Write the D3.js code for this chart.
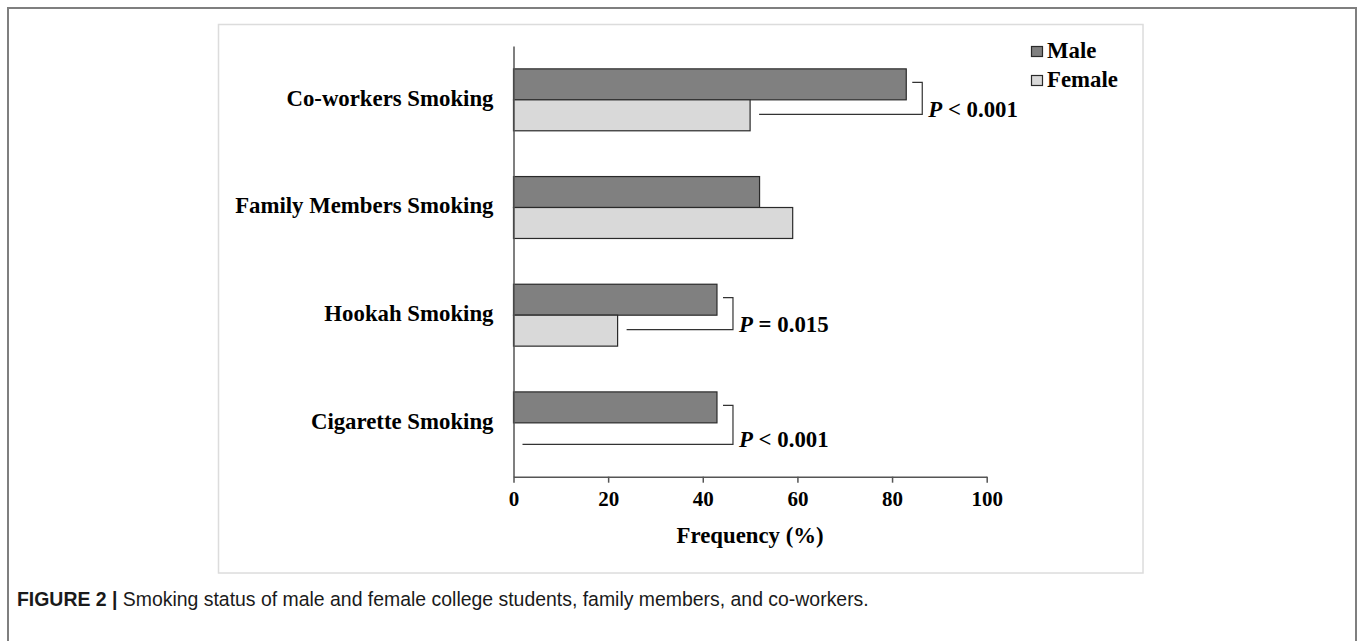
<!DOCTYPE html>
<html>
<head>
<meta charset="utf-8">
<script src="https://cdn.jsdelivr.net/npm/d3@7/dist/d3.min.js"></script>
<style>
  html, body { margin: 0; padding: 0; background: #fff; }
  svg { display: block; }
</style>
</head>
<body>
<svg id="chart" width="1360" height="641"></svg>
<script>
// ---- data ----
const categories = ["Co-workers Smoking", "Family Members Smoking", "Hookah Smoking", "Cigarette Smoking"];
const seriesNames = ["Male", "Female"];
const maleValues = [83, 52, 43, 43];
const femaleValues = [50, 59, 22, 0];
const pLabels = ["< 0.001", null, "= 0.015", "< 0.001"];
const xTicks = [0, 20, 40, 60, 80, 100];
const xTitle = "Frequency (%)";
const captionBold = "FIGURE 2 |";
const captionText = " Smoking status of male and female college students, family members, and co-workers.";

const colors = { Male: "#808080", Female: "#d9d9d9" };
const serif = "'Liberation Serif', 'Times New Roman', serif";
const labelSize = "22.8px";

const svg = d3.select("#chart");

// outer frame (open at bottom)
svg.append("path")
  .attr("d", "M8,641 L8,8 L1356,8 L1356,641")
  .attr("fill", "none").attr("stroke", "#7f7f7f").attr("stroke-width", 2);

// inner chart box
svg.append("rect")
  .attr("x", 218.5).attr("y", 24.5).attr("width", 924.5).attr("height", 548.5)
  .attr("fill", "#fff").attr("stroke", "#dcdcdc").attr("stroke-width", 1.5);

// scales
const x = d3.scaleLinear().domain([0, 100]).range([513.5, 986.7]);
const y = d3.scaleBand().domain(categories).range([46, 476.7]).paddingInner(0.425).paddingOuter(0.2125);
const ySub = d3.scaleBand().domain(seriesNames).range([0, y.bandwidth()]);

const rows = categories.map((c, i) => ({ cat: c, Male: maleValues[i], Female: femaleValues[i], p: pLabels[i] }));

// bars
const g = svg.append("g");
rows.forEach(r => {
  seriesNames.forEach(s => {
    if (r[s] > 0) {
      g.append("rect")
        .attr("x", x(0))
        .attr("y", y(r.cat) + ySub(s))
        .attr("width", x(r[s]) - x(0))
        .attr("height", ySub.bandwidth())
        .attr("fill", colors[s])
        .attr("stroke", "#2a2a2a")
        .attr("stroke-width", 1.2);
    }
  });
});

// x axis
const xAxis = d3.axisBottom(x).tickValues(xTicks).tickSize(6).tickSizeOuter(0).tickFormat(d3.format("d"));
const xg = svg.append("g").attr("transform", `translate(0,${y.range()[1]})`).call(xAxis);
xg.select(".domain").attr("stroke", "#555").attr("stroke-width", 1.5);
xg.selectAll(".tick line").attr("stroke", "#555").attr("stroke-width", 1.5);
xg.selectAll(".tick text")
  .attr("font-family", serif).attr("font-weight", "bold").attr("font-size", "21px")
  .attr("fill", "#000").attr("y", 14).attr("dy", "0.71em");

// y axis line (no ticks)
const yAxis = d3.axisLeft(y).tickSize(0).tickPadding(20).tickSizeOuter(0);
const yg = svg.append("g").attr("transform", `translate(${x(0)},0)`).call(yAxis);
yg.select(".domain").attr("stroke", "#555").attr("stroke-width", 1.5);
yg.selectAll(".tick text")
  .attr("font-family", serif).attr("font-weight", "bold").attr("font-size", labelSize)
  .attr("fill", "#000").attr("dy", "0.25em");

// x title
svg.append("text")
  .attr("x", (x(0) + x(100)) / 2).attr("y", 543)
  .attr("text-anchor", "middle")
  .attr("font-family", serif).attr("font-weight", "bold").attr("font-size", labelSize)
  .attr("fill", "#000").text(xTitle);

// p-value brackets
rows.forEach(r => {
  if (!r.p) return;
  const mEnd = x(r.Male), fEnd = x(r.Female);
  const yTop = y(r.cat) + ySub("Male") + ySub.bandwidth() / 2 - 2;
  const yBot = y(r.cat) + ySub("Female") + ySub.bandwidth() / 2 - 1 + (r.Female === 0 ? 7 : 0);
  const vx = mEnd + 16;
  svg.append("path")
    .attr("d", `M${mEnd + 6},${yTop} H${vx} V${yBot} H${fEnd + 9}`)
    .attr("fill", "none").attr("stroke", "#333").attr("stroke-width", 1.2);
  const t = svg.append("text")
    .attr("x", vx + 6).attr("y", yBot + 2.5)
    .attr("font-family", serif).attr("font-weight", "bold").attr("font-size", labelSize)
    .attr("fill", "#000");
  t.append("tspan").attr("font-style", "italic").text("P");
  t.append("tspan").text(" " + r.p);
});

// legend
const legend = svg.append("g");
seriesNames.forEach((s, i) => {
  const ly = 46 + i * 29;
  legend.append("rect")
    .attr("x", 1031.5).attr("y", ly + 0.5).attr("width", 11).attr("height", 10)
    .attr("fill", colors[s]).attr("stroke", "#2a2a2a").attr("stroke-width", 1.2);
  legend.append("text")
    .attr("x", 1047).attr("y", ly + 11.5)
    .attr("font-family", serif).attr("font-weight", "bold").attr("font-size", labelSize)
    .attr("fill", "#000").text(s);
});

// caption
const cap = svg.append("text")
  .attr("x", 17).attr("y", 606)
  .attr("font-family", "'Liberation Sans', Arial, sans-serif").attr("font-size", "18px")
  .attr("fill", "#1a1a1a");
cap.append("tspan").attr("font-weight", "bold").text(captionBold);
cap.append("tspan").text(captionText);
// fit caption width to the reference (~852px)
const w = cap.node().getComputedTextLength();
if (w > 0) cap.attr("font-size", (18 * 852 / w).toFixed(2) + "px");
</script>
</body>
</html>
